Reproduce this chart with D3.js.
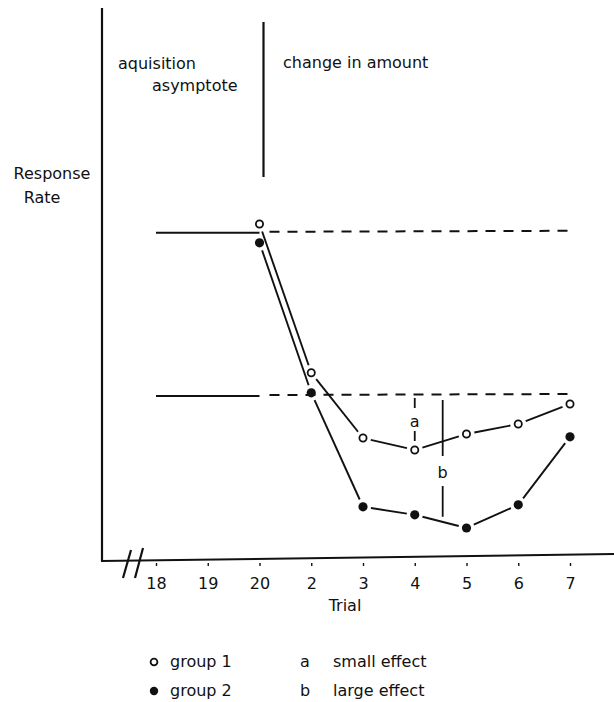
<!DOCTYPE html>
<html>
<head>
<meta charset="utf-8">
<script src="https://cdn.jsdelivr.net/npm/d3@7/dist/d3.min.js"></script>
<style>
  html, body { margin: 0; padding: 0; background: #fff; }
  svg { display: block; }
  text { font-family: "DejaVu Sans", sans-serif; fill: #111; }
</style>
</head>
<body>
<script>
// ---- data ----
const categories = ["18", "19", "20", "2", "3", "4", "5", "6", "7"];
const changeTrials = ["20", "2", "3", "4", "5", "6", "7"];
const group1 = [83.5, 46.3, 30, 27, 31, 33.5, 38.5];
const group2 = [78.8, 41.3, 12.8, 10.8, 7.5, 13.3, 30.3];
const asymptoteLevels = [81.3, 40.5];   // upper, lower reference levels
const effectA = { from: 40.5, to: 27, label: "a" };
const effectB = { from: 39.5, to: 10.3, label: "b" };
const legendGroups = ["group 1", "group 2"];
const legendEffects = [["a", "small effect"], ["b", "large effect"]];

const W = 614, H = 702;
const svg = d3.select("body").append("svg").attr("width", W).attr("height", H);

const x = d3.scalePoint().domain(categories).range([156, 570]);
const y = d3.scaleLinear().domain([0, 100]).range([558, 158]);
const step = x.step();

const ink = "#111";

// axes
svg.append("line").attr("x1", 102).attr("x2", 102).attr("y1", 8).attr("y2", 561)
  .attr("stroke", ink).attr("stroke-width", 2.2);
svg.append("line").attr("x1", 101).attr("x2", 614).attr("y1", 561).attr("y2", 554)
  .attr("stroke", ink).attr("stroke-width", 2);

// axis break
[[123, 578, 131, 550], [135, 578, 143, 548]].forEach(s => {
  svg.append("line").attr("x1", s[0]).attr("y1", s[1]).attr("x2", s[2]).attr("y2", s[3])
    .attr("stroke", ink).attr("stroke-width", 2.2);
});

// ticks + labels via axis
const xAxis = d3.axisBottom(x).tickSize(4).tickPadding(12);
const gx = svg.append("g").attr("transform", "translate(0,562)").call(xAxis);
gx.select(".domain").remove();
gx.selectAll(".tick line").attr("stroke", ink).attr("stroke-width", 1.4).attr("y1", 1);
gx.selectAll(".tick text").attr("font-size", 16).attr("font-family", "DejaVu Sans, sans-serif").attr("fill", ink);

svg.append("text").attr("x", 345).attr("y", 611).attr("text-anchor", "middle")
  .attr("font-size", 16).text("Trial");

// y label
svg.append("text").attr("x", 52).attr("y", 179).attr("text-anchor", "middle")
  .attr("font-size", 16).text("Response");
svg.append("text").attr("x", 42).attr("y", 203).attr("text-anchor", "middle")
  .attr("font-size", 16).text("Rate");

// phase divider
svg.append("line").attr("x1", x("20") + 4).attr("x2", x("20") + 4).attr("y1", 22).attr("y2", 177)
  .attr("stroke", ink).attr("stroke-width", 2.2);
svg.append("text").attr("x", 118).attr("y", 69).attr("font-size", 16).text("aquisition");
svg.append("text").attr("x", 152).attr("y", 91).attr("font-size", 16).text("asymptote");
svg.append("text").attr("x", 283).attr("y", 68).attr("font-size", 16).text("change in amount");

// asymptote lines: solid over acquisition, dashed over change phase
asymptoteLevels.forEach(v => {
  svg.append("line").attr("x1", x("18")).attr("x2", x("20"))
    .attr("y1", y(v)).attr("y2", y(v)).attr("stroke", ink).attr("stroke-width", 2);
  svg.append("line").attr("x1", x("20") + 10).attr("x2", x("7"))
    .attr("y1", y(v) - 1).attr("y2", y(v) - 2).attr("stroke", ink).attr("stroke-width", 2)
    .attr("stroke-dasharray", "10,8");
});

// series lines with gaps near markers
function drawSeries(vals, r) {
  const pts = changeTrials.map((c, i) => [x(c), y(vals[i])]);
  for (let i = 0; i < pts.length - 1; i++) {
    const [x0, y0] = pts[i], [x1, y1] = pts[i + 1];
    const dx = x1 - x0, dy = y1 - y0, L = Math.hypot(dx, dy);
    const g = r + 4;
    svg.append("line")
      .attr("x1", x0 + dx / L * g).attr("y1", y0 + dy / L * g)
      .attr("x2", x1 - dx / L * g).attr("y2", y1 - dy / L * g)
      .attr("stroke", ink).attr("stroke-width", 1.9);
  }
  return pts;
}
drawSeries(group1, 4);
drawSeries(group2, 4);

// effect annotations
const xa = x("4");
const xb = x("4") + step * 0.54;
// a (broken line: short dash above and below the label)
svg.append("line").attr("x1", xa).attr("x2", xa).attr("y1", y(effectA.from) + 2).attr("y2", y(effectA.from) + 12)
  .attr("stroke", ink).attr("stroke-width", 1.8);
svg.append("line").attr("x1", xa).attr("x2", xa).attr("y1", y(effectA.from) + 35).attr("y2", y(effectA.to) - 9)
  .attr("stroke", ink).attr("stroke-width", 1.8);
svg.append("text").attr("x", xa).attr("y", y(effectA.from) + 31).attr("text-anchor", "middle")
  .attr("font-size", 16).text(effectA.label);
// b (solid)
svg.append("line").attr("x1", xb).attr("x2", xb).attr("y1", y(effectB.from)).attr("y2", y(effectB.from) + 56)
  .attr("stroke", ink).attr("stroke-width", 1.8);
svg.append("line").attr("x1", xb).attr("x2", xb).attr("y1", y(effectB.from) + 86).attr("y2", y(effectB.to))
  .attr("stroke", ink).attr("stroke-width", 1.8);
svg.append("text").attr("x", xb).attr("y", y(effectB.from) + 78).attr("text-anchor", "middle")
  .attr("font-size", 16).text(effectB.label);

// markers
svg.selectAll("circle.g1").data(group1).enter().append("circle")
  .attr("cx", (d, i) => x(changeTrials[i])).attr("cy", d => y(d)).attr("r", 3.6)
  .attr("fill", "#fff").attr("stroke", ink).attr("stroke-width", 1.8);
svg.selectAll("circle.g2").data(group2).enter().append("circle")
  .attr("cx", (d, i) => x(changeTrials[i])).attr("cy", d => y(d)).attr("r", 4.6)
  .attr("fill", ink);

// legend
legendGroups.forEach((g, i) => {
  const yy = 667 + i * 29;
  const c = svg.append("circle").attr("cx", 154).attr("cy", yy - 5);
  if (i === 0) c.attr("r", 3.4).attr("fill", "#fff").attr("stroke", ink).attr("stroke-width", 1.8);
  else c.attr("r", 4.2).attr("fill", ink);
  svg.append("text").attr("x", 170).attr("y", yy).attr("font-size", 16).text(g);
});
legendEffects.forEach((e, i) => {
  const yy = 667 + i * 29;
  svg.append("text").attr("x", 300).attr("y", yy).attr("font-size", 16).text(e[0]);
  svg.append("text").attr("x", 333).attr("y", yy).attr("font-size", 16).text(e[1]);
});
</script>
</body>
</html>
